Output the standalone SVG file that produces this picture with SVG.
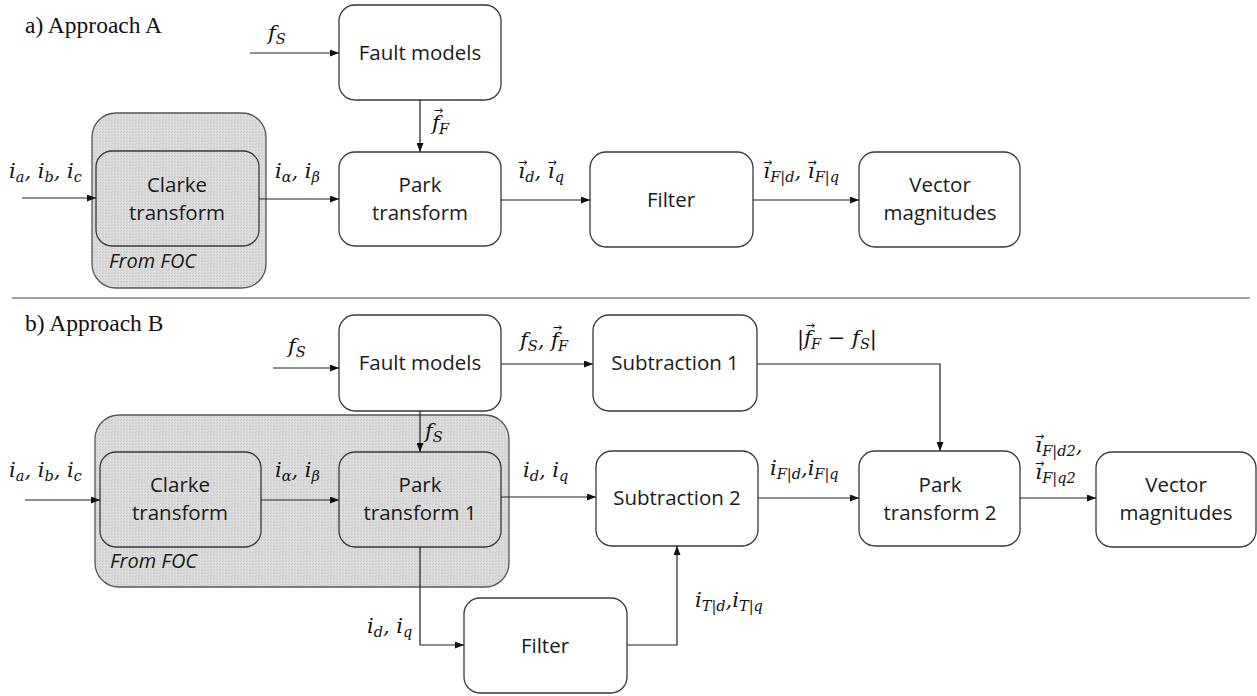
<svg xmlns="http://www.w3.org/2000/svg" width="1257" height="696" viewBox="0 0 1257 696">
  <defs>
    <marker id="arr" markerUnits="userSpaceOnUse" markerWidth="9" markerHeight="7" refX="9" refY="3.5" orient="auto">
      <path d="M0,0 L9,3.5 L0,7 z" fill="#111"/>
    </marker>
    <pattern id="grain" width="3" height="3" patternUnits="userSpaceOnUse">
      <rect width="3" height="3" fill="#d9d9d9"/>
      <rect x="0" y="0" width="1" height="1" fill="#cbcbcb"/>
      <rect x="2" y="1" width="1" height="1" fill="#e3e3e3"/>
      <rect x="1" y="2" width="1" height="1" fill="#cecece"/>
    </pattern>
  </defs>
  <style>
    .box { fill: #ffffff; stroke: #3a3a3a; stroke-width: 1.3; }
    .gbox { fill: url(#grain); stroke: #3a3a3a; stroke-width: 1.3; }
    .cont { fill: url(#grain); stroke: #555555; stroke-width: 1.3; }
    .lbl { font-family: "Open Sans", "Noto Sans", sans-serif; font-size: 20.5px; fill: #1a1a1a; text-anchor: middle; }
    .foc { font-family: "Open Sans", "Noto Sans", sans-serif; font-size: 20px; font-style: italic; fill: #1a1a1a; }
    .ttl { font-family: "Liberation Serif", "Times New Roman", serif; font-size: 23.5px; fill: #111; }
    .m { font-family: "DejaVu Serif", "Liberation Serif", serif; font-style: italic; font-size: 21px; fill: #111; }
    .s { font-size: 14.5px; }
    .v { font-family: "DejaVu Sans", sans-serif; font-style: normal; font-size: 11px; }
    .wire { fill: none; stroke: #222; stroke-width: 1.2; marker-end: url(#arr); }
    .sep { stroke: #444; stroke-width: 1.2; }
  </style>

  <rect width="1257" height="696" fill="#ffffff"/>

  <!-- section titles and divider -->
  <text class="ttl" x="25" y="33">a) Approach A</text>
  <text class="ttl" x="25" y="331">b) Approach B</text>
  <line class="sep" x1="12" y1="298" x2="1250" y2="298"/>

  <!-- ===== Approach A nodes ===== -->
  <g id="a-foc">
    <rect class="cont" x="92" y="113" width="174" height="175" rx="24"/>
    <text class="foc" x="109" y="268">From FOC</text>
  </g>
  <g id="a-clarke">
    <rect class="gbox" x="96" y="151" width="163" height="95" rx="16"/>
    <text class="lbl" x="177" y="192">Clarke</text>
    <text class="lbl" x="177" y="220">transform</text>
  </g>
  <g id="a-fault">
    <rect class="box" x="339" y="5" width="162" height="95" rx="16"/>
    <text class="lbl" x="420" y="60">Fault models</text>
  </g>
  <g id="a-park">
    <rect class="box" x="339" y="152" width="162" height="94" rx="16"/>
    <text class="lbl" x="420" y="192">Park</text>
    <text class="lbl" x="420" y="220">transform</text>
  </g>
  <g id="a-filter">
    <rect class="box" x="590" y="152" width="163" height="95" rx="16"/>
    <text class="lbl" x="671" y="207">Filter</text>
  </g>
  <g id="a-mag">
    <rect class="box" x="859" y="152" width="161" height="95" rx="16"/>
    <text class="lbl" x="940" y="192">Vector</text>
    <text class="lbl" x="940" y="220">magnitudes</text>
  </g>

  <!-- ===== Approach B nodes ===== -->
  <g id="b-foc">
    <rect class="cont" x="95" y="415" width="414" height="172" rx="24"/>
    <text class="foc" x="110" y="568">From FOC</text>
  </g>
  <g id="b-clarke">
    <rect class="gbox" x="100" y="452" width="161" height="95" rx="16"/>
    <text class="lbl" x="180" y="492">Clarke</text>
    <text class="lbl" x="180" y="520">transform</text>
  </g>
  <g id="b-park1">
    <rect class="gbox" x="339" y="452" width="162" height="95" rx="16"/>
    <text class="lbl" x="420" y="492">Park</text>
    <text class="lbl" x="420" y="520">transform 1</text>
  </g>
  <g id="b-fault">
    <rect class="box" x="339" y="315" width="162" height="96" rx="16"/>
    <text class="lbl" x="420" y="370">Fault models</text>
  </g>
  <g id="b-sub1">
    <rect class="box" x="593" y="315" width="164" height="96" rx="16"/>
    <text class="lbl" x="675" y="370">Subtraction 1</text>
  </g>
  <g id="b-sub2">
    <rect class="box" x="596" y="451" width="162" height="95" rx="16"/>
    <text class="lbl" x="677" y="505">Subtraction 2</text>
  </g>
  <g id="b-park2">
    <rect class="box" x="859" y="451" width="161" height="95" rx="16"/>
    <text class="lbl" x="940" y="492">Park</text>
    <text class="lbl" x="940" y="520">transform 2</text>
  </g>
  <g id="b-mag">
    <rect class="box" x="1096" y="452" width="160" height="95" rx="16"/>
    <text class="lbl" x="1176" y="492">Vector</text>
    <text class="lbl" x="1176" y="520">magnitudes</text>
  </g>
  <g id="b-filter">
    <rect class="box" x="464" y="598" width="163" height="95" rx="16"/>
    <text class="lbl" x="545" y="653">Filter</text>
  </g>

  <!-- ===== connectors ===== -->
  <g id="connectors">
    <!-- A -->
    <path class="wire" d="M250,53 H339"/>
    <path class="wire" d="M420,100 V152"/>
    <path class="wire" d="M22,198 H96"/>
    <path class="wire" d="M259,199 H339"/>
    <path class="wire" d="M501,200 H590"/>
    <path class="wire" d="M753,200 H859"/>
    <!-- B -->
    <path class="wire" d="M273,368 H339"/>
    <path class="wire" d="M501,364 H593"/>
    <path class="wire" d="M757,364 H940 V451"/>
    <path class="wire" d="M420,411 V452"/>
    <path class="wire" d="M25,500 H100"/>
    <path class="wire" d="M261,500 H339"/>
    <path class="wire" d="M501,497 H596"/>
    <path class="wire" d="M758,498 H859"/>
    <path class="wire" d="M1020,498 H1096"/>
    <path class="wire" d="M420,547 V645 H464"/>
    <path class="wire" d="M627,645 H677 V546"/>
  </g>

  <!-- ===== signal labels (vector accents as small arrows above the letter) ===== -->
  <g id="labels">
    <!-- A -->
    <text class="m" x="268" y="40">f<tspan class="s" dy="4">S</tspan></text>
    <text class="m" x="432" y="130">f<tspan class="v" dx="-6" dy="-16">→</tspan><tspan class="s" dx="-4" dy="20">F</tspan></text>
    <text class="m" x="9" y="178">i<tspan class="s" dy="4">a</tspan><tspan dy="-4">, i</tspan><tspan class="s" dy="4">b</tspan><tspan dy="-4">, i</tspan><tspan class="s" dy="4">c</tspan></text>
    <text class="m" x="275" y="178">i<tspan class="s" dy="4">α</tspan><tspan dy="-4">, i</tspan><tspan class="s" dy="4">β</tspan></text>
    <text class="m" x="518" y="178">ı<tspan class="v" dx="-7" dy="-12">→</tspan><tspan class="s" dx="-2" dy="16">d</tspan><tspan dy="-4">, ı</tspan><tspan class="v" dx="-7" dy="-12">→</tspan><tspan class="s" dx="-2" dy="16">q</tspan></text>
    <text class="m" x="763" y="178">ı<tspan class="v" dx="-7" dy="-12">→</tspan><tspan class="s" dx="-2" dy="16">F|d</tspan><tspan dy="-4">, ı</tspan><tspan class="v" dx="-7" dy="-12">→</tspan><tspan class="s" dx="-2" dy="16">F|q</tspan></text>
    <!-- B -->
    <text class="m" x="288" y="353">f<tspan class="s" dy="4">S</tspan></text>
    <text class="m" x="520" y="347">f<tspan class="s" dy="4">S</tspan><tspan dy="-4">, f</tspan><tspan class="v" dx="-6" dy="-16">→</tspan><tspan class="s" dx="-4" dy="20">F</tspan></text>
    <text class="m" x="797" y="345">|f<tspan class="v" dx="-6" dy="-16">→</tspan><tspan class="s" dx="-4" dy="20">F</tspan><tspan dy="-4" font-style="normal"> − </tspan><tspan>f</tspan><tspan class="s" dy="4">S</tspan><tspan dy="-4">|</tspan></text>
    <text class="m" x="425" y="438">f<tspan class="s" dy="4">S</tspan></text>
    <text class="m" x="9" y="477">i<tspan class="s" dy="4">a</tspan><tspan dy="-4">, i</tspan><tspan class="s" dy="4">b</tspan><tspan dy="-4">, i</tspan><tspan class="s" dy="4">c</tspan></text>
    <text class="m" x="275" y="477">i<tspan class="s" dy="4">α</tspan><tspan dy="-4">, i</tspan><tspan class="s" dy="4">β</tspan></text>
    <text class="m" x="523" y="477">i<tspan class="s" dy="4">d</tspan><tspan dy="-4">, i</tspan><tspan class="s" dy="4">q</tspan></text>
    <text class="m" x="770" y="475">i<tspan class="s" dy="4">F|d</tspan><tspan dy="-4">,i</tspan><tspan class="s" dy="4">F|q</tspan></text>
    <text class="m" x="1035" y="452">ı<tspan class="v" dx="-7" dy="-12">→</tspan><tspan class="s" dx="-2" dy="16">F|d2</tspan><tspan dy="-4">,</tspan></text>
    <text class="m" x="1035" y="479">ı<tspan class="v" dx="-7" dy="-12">→</tspan><tspan class="s" dx="-2" dy="16">F|q2</tspan></text>
    <text class="m" x="367" y="633">i<tspan class="s" dy="4">d</tspan><tspan dy="-4">, i</tspan><tspan class="s" dy="4">q</tspan></text>
    <text class="m" x="695" y="607">i<tspan class="s" dy="4">T|d</tspan><tspan dy="-4">,i</tspan><tspan class="s" dy="4">T|q</tspan></text>
  </g>
</svg>
